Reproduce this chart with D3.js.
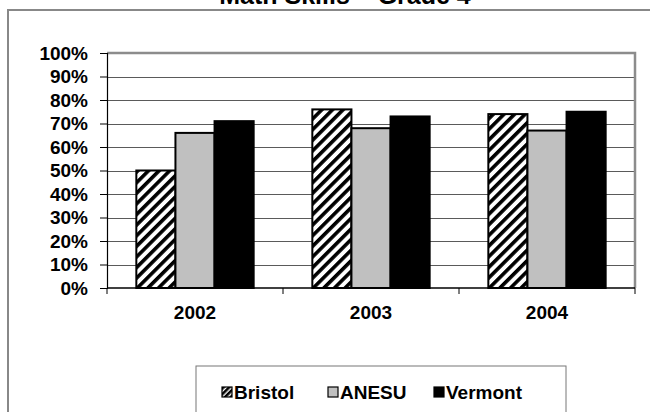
<!DOCTYPE html>
<html>
<head>
<meta charset="utf-8">
<script src="https://cdn.jsdelivr.net/npm/d3@7"></script>
<style>
  html, body { margin: 0; padding: 0; background: #fff; }
  svg { display: block; font-family: Arial, "Liberation Sans", sans-serif; }
</style>
</head>
<body>
<svg id="chart" width="650" height="412"></svg>
<script>
// Chart data
const title = "Math Skills – Grade 4";
const years = ["2002", "2003", "2004"];
const seriesNames = ["Bristol", "ANESU", "Vermont"];
const bristol = [50, 76, 74];
const anesu = [66, 68, 67];
const vermont = [71, 73, 75];
const yTicks = [0, 10, 20, 30, 40, 50, 60, 70, 80, 90, 100];

const seriesValues = [bristol, anesu, vermont];
const fills = ["url(#hatch)", "#c0c0c0", "#000000"];

const svg = d3.select("#chart");

// Diagonal hatch used for the Bristol series
const defs = svg.append("defs");
const pat = defs.append("pattern")
  .attr("id", "hatch")
  .attr("patternUnits", "userSpaceOnUse")
  .attr("width", 7.5).attr("height", 7.5)
  .attr("patternTransform", "rotate(45)");
pat.append("rect").attr("width", 7.5).attr("height", 7.5).attr("fill", "#fff");
pat.append("rect").attr("width", 3.6).attr("height", 7.5).attr("fill", "#000");

const patSmall = defs.append("pattern")
  .attr("id", "hatchSmall")
  .attr("patternUnits", "userSpaceOnUse")
  .attr("width", 4).attr("height", 4)
  .attr("patternTransform", "rotate(45)");
patSmall.append("rect").attr("width", 4).attr("height", 4).attr("fill", "#000");
patSmall.append("rect").attr("x", 2.6).attr("width", 1.4).attr("height", 4).attr("fill", "#fff");

// Outer chart frame
svg.append("rect")
  .attr("x", 8).attr("y", 10).attr("width", 700).attr("height", 500)
  .attr("fill", "none").attr("stroke", "#888").attr("stroke-width", 2);

// Title
svg.append("text")
  .attr("x", 345).attr("y", 4)
  .attr("text-anchor", "middle")
  .attr("font-size", 25).attr("font-weight", "bold")
  .text(title);

// Plot area
const plot = { left: 107, right: 635, top: 53, bottom: 288 };

const x = d3.scaleBand().domain(years).range([plot.left, plot.right]).padding(0);
const groupW = x.bandwidth() / 1.5;
const xs = d3.scaleBand().domain(seriesNames).range([0, groupW]).padding(0);
const y = d3.scaleLinear().domain([0, 100]).range([plot.bottom, plot.top]);

// Gridlines
svg.append("g")
  .selectAll("line")
  .data(yTicks.filter(d => d > 0 && d < 100))
  .join("line")
  .attr("x1", plot.left).attr("x2", plot.right)
  .attr("y1", d => Math.round(y(d)) + 0.5).attr("y2", d => Math.round(y(d)) + 0.5)
  .attr("stroke", "#5a5a5a").attr("stroke-width", 1);

// Plot area border (top and right in gray)
svg.append("path")
  .attr("d", `M${plot.left},${plot.top} H${plot.right} V${plot.bottom}`)
  .attr("fill", "none").attr("stroke", "#8c8c8c").attr("stroke-width", 2.5);

// Bars
const groups = svg.append("g")
  .selectAll("g")
  .data(years)
  .join("g")
  .attr("transform", d => `translate(${x(d) + (x.bandwidth() - groupW) / 2},0)`);

groups.selectAll("rect")
  .data((d, i) => seriesNames.map((s, j) => ({ s, j, v: seriesValues[j][i] })))
  .join("rect")
  .attr("x", d => xs(d.s))
  .attr("width", xs.bandwidth())
  .attr("y", d => y(d.v))
  .attr("height", d => y(0) - y(d.v))
  .attr("fill", d => fills[d.j])
  .attr("stroke", "#000").attr("stroke-width", 2);

// Y axis
const yAxis = d3.axisLeft(y).tickValues(yTicks).tickFormat(d => d + "%").tickSize(7).tickPadding(12);
const gy = svg.append("g").attr("transform", `translate(${plot.left},0)`).call(yAxis);
gy.select(".domain").attr("stroke", "#000").attr("stroke-width", 1.2);
gy.selectAll(".tick line").attr("stroke", "#000");
gy.selectAll("text")
  .attr("font-size", 19).attr("font-weight", "bold")
  .attr("font-family", "Arial, 'Liberation Sans', sans-serif")
  .attr("fill", "#000");

// X axis: ticks on category boundaries
const gx = svg.append("g").attr("transform", `translate(0,${plot.bottom})`);
gx.append("line")
  .attr("x1", plot.left).attr("x2", plot.right)
  .attr("stroke", "#000").attr("stroke-width", 1.5);
const boundaries = years.map(d => x(d)).concat([plot.right]);
gx.selectAll("line.tk")
  .data(boundaries)
  .join("line").attr("class", "tk")
  .attr("x1", d => d).attr("x2", d => d)
  .attr("y1", 0).attr("y2", 6)
  .attr("stroke", "#000");
gx.selectAll("text")
  .data(years)
  .join("text")
  .attr("x", d => x(d) + x.bandwidth() / 2)
  .attr("y", 31)
  .attr("text-anchor", "middle")
  .attr("font-size", 19).attr("font-weight", "bold")
  .text(d => d);

// Legend
const legend = svg.append("g");
legend.append("rect")
  .attr("x", 196).attr("y", 366).attr("width", 370).attr("height", 80)
  .attr("fill", "#fff").attr("stroke", "#777").attr("stroke-width", 1);
const legendX = [222, 328, 434];
const legendFills = ["url(#hatchSmall)", "#c0c0c0", "#000000"];
const items = legend.selectAll("g.item")
  .data(seriesNames)
  .join("g").attr("class", "item")
  .attr("transform", (d, i) => `translate(${legendX[i]},387)`);
items.append("rect")
  .attr("width", 10).attr("height", 10)
  .attr("fill", (d, i) => legendFills[i])
  .attr("stroke", "#000").attr("stroke-width", 1.2);
items.append("text")
  .attr("x", 12).attr("y", 12)
  .attr("font-size", 19).attr("font-weight", "bold")
  .text(d => d);
</script>
</body>
</html>
